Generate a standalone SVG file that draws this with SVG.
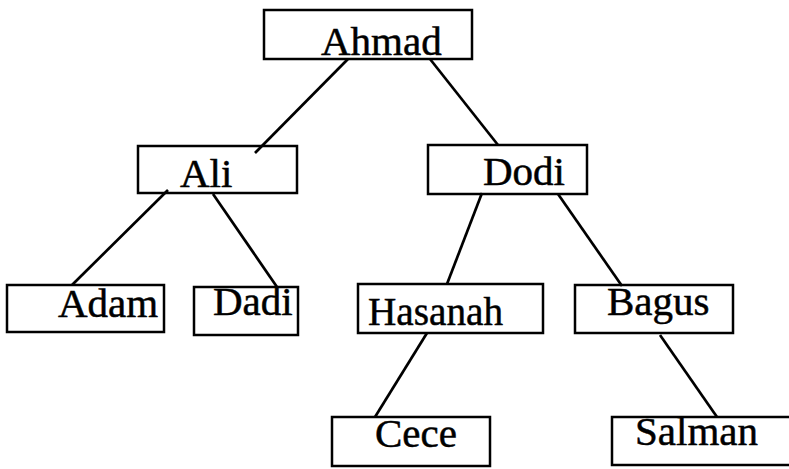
<svg xmlns="http://www.w3.org/2000/svg" width="789" height="469" viewBox="0 0 789 469">
<style>
rect{fill:none;stroke:#000;stroke-width:2.5}
line{stroke:#000;stroke-width:2.7}
text{font-family:"Liberation Serif","Times New Roman",serif;font-size:41px;fill:#000;stroke:#000;stroke-width:0.5}
</style>
<rect x="0" y="0" width="789" height="469" style="fill:#fff;stroke:none"/>
<g id="connectors">
<line x1="348" y1="59" x2="255" y2="153"/>
<line x1="430" y1="59" x2="498" y2="145"/>
<line x1="168" y1="190" x2="72" y2="285"/>
<line x1="213" y1="194" x2="277" y2="287"/>
<line x1="482" y1="193" x2="447" y2="284"/>
<line x1="558" y1="194" x2="622" y2="286"/>
<line x1="427" y1="333" x2="375" y2="417"/>
<line x1="660" y1="335" x2="717" y2="417"/>
</g>
<g id="ahmad"><rect x="264" y="10" width="208" height="49"/><text x="321" y="55">Ahmad</text></g>
<g id="ali"><rect x="138" y="146" width="159" height="47"/><text x="180" y="187">Ali</text></g>
<g id="dodi"><rect x="428" y="145" width="159" height="49"/><text x="483" y="185">Dodi</text></g>
<g id="adam"><rect x="7" y="285" width="157" height="47"/><text x="58" y="317">Adam</text></g>
<g id="dadi"><rect x="194" y="287" width="104" height="48"/><text x="213" y="315">Dadi</text></g>
<g id="hasanah"><rect x="358" y="284" width="185" height="49"/><text x="368" y="325" textLength="135" lengthAdjust="spacingAndGlyphs">Hasanah</text></g>
<g id="bagus"><rect x="575" y="285" width="158" height="48"/><text x="607" y="315">Bagus</text></g>
<g id="cece"><rect x="332" y="417" width="158" height="49"/><text x="375" y="447">Cece</text></g>
<g id="salman"><rect x="612" y="417" width="190" height="48"/><text x="635" y="445">Salman</text></g>
</svg>
